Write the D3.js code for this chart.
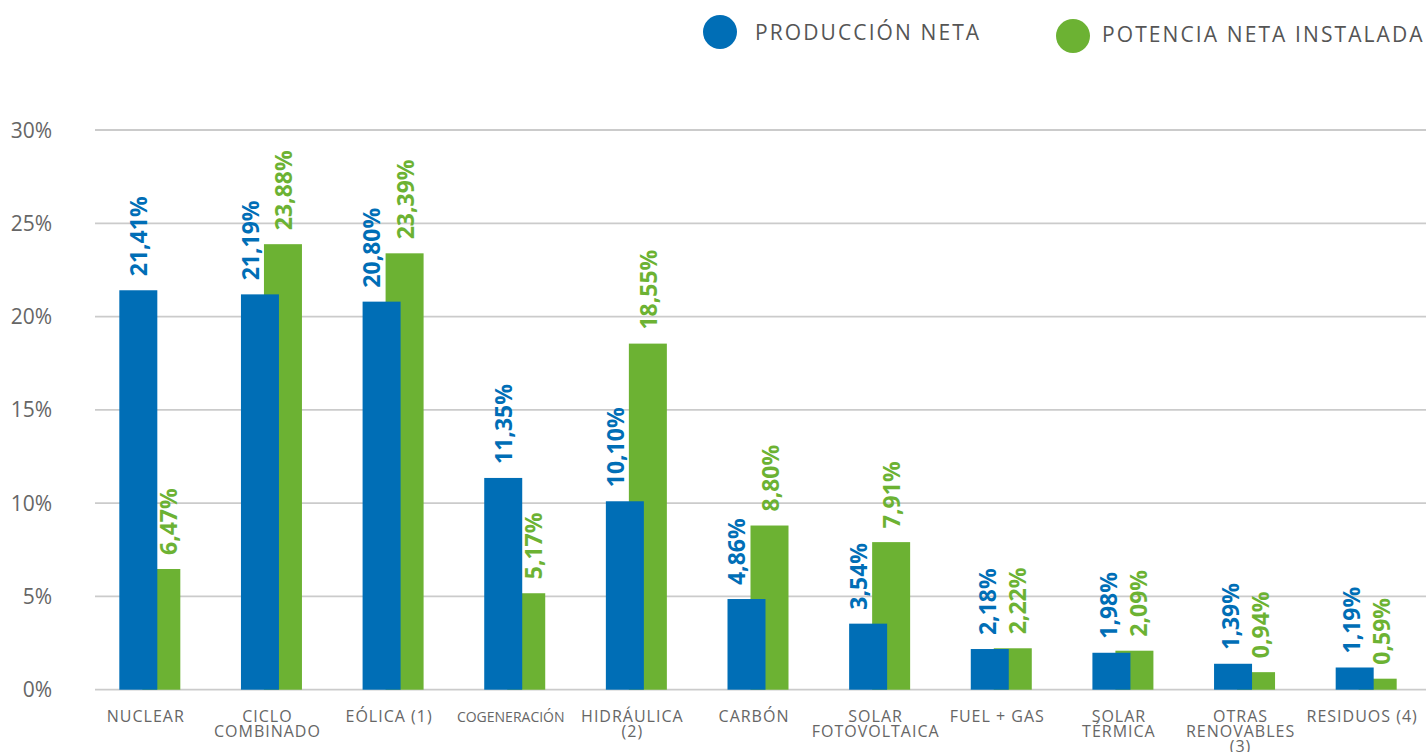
<!DOCTYPE html>
<html>
<head>
<meta charset="utf-8">
<script src="https://cdn.jsdelivr.net/npm/d3@7"></script>
<style>
  body { margin: 0; background: #fff; }
  svg { display: block; font-family: "Open Sans", sans-serif; }
</style>
</head>
<body>
<svg width="1426" height="752"></svg>
<script>
  // categories (one entry per line of the axis label)
  const categories = [
    ["NUCLEAR"], ["CICLO", "COMBINADO"], ["EÓLICA (1)"], ["COGENERACIÓN"],
    ["HIDRÁULICA", "(2)"], ["CARBÓN"], ["SOLAR", "FOTOVOLTAICA"], ["FUEL + GAS"],
    ["SOLAR", "TÉRMICA"], ["OTRAS", "RENOVABLES", "(3)"], ["RESIDUOS (4)"]
  ];
  const produccion = [21.41, 21.19, 20.80, 11.35, 10.10, 4.86, 3.54, 2.18, 1.98, 1.39, 1.19];
  const potencia = [6.47, 23.88, 23.39, 5.17, 18.55, 8.80, 7.91, 2.22, 2.09, 0.94, 0.59];
  const yTicks = [0, 5, 10, 15, 20, 25, 30];
  const seriesNames = ["PRODUCCIÓN NETA", "POTENCIA NETA INSTALADA"];

  const BLUE = "#006eb6", GREEN = "#6cb233", GREY = "#666";

  const svg = d3.select("svg");
  const keys = categories.map(c => c.join(" "));

  const x = d3.scaleBand().domain(keys).range([89, 1427]);
  const sub = d3.scalePoint().domain(["prod", "pot"]).range([-11.5, 11.5]);
  const barW = 38;
  const y = d3.scaleLinear().domain([0, 30]).range([689.7, 130]);

  const fmt = v => d3.format(".2f")(v).replace(".", ",") + "%";

  // gridlines + y labels
  const grid = svg.append("g");
  grid.selectAll("line").data(yTicks).enter().append("line")
    .attr("x1", 95).attr("x2", 1426)
    .attr("y1", d => y(d)).attr("y2", d => y(d))
    .attr("stroke", "#cbcbcb").attr("stroke-width", 1.8);
  grid.selectAll("text").data(yTicks).enter().append("text")
    .attr("x", 52).attr("y", d => y(d)).attr("dy", "0.36em")
    .attr("text-anchor", "end")
    .style("font-size", "21px").style("fill", GREY)
    .text(d => d + "%");

  const rows = keys.map((k, i) => ({ key: k, lines: categories[i], prod: produccion[i], pot: potencia[i] }));
  const cx = d => x(d.key) + x.bandwidth() / 2;

  // bars: green behind, blue in front
  svg.append("g").selectAll("rect").data(rows).enter().append("rect")
    .attr("x", d => cx(d) + sub("pot") - barW / 2)
    .attr("y", d => y(d.pot)).attr("width", barW)
    .attr("height", d => y(0) - y(d.pot))
    .attr("fill", GREEN);
  svg.append("g").selectAll("rect").data(rows).enter().append("rect")
    .attr("x", d => cx(d) + sub("prod") - barW / 2)
    .attr("y", d => y(d.prod)).attr("width", barW)
    .attr("height", d => y(0) - y(d.prod))
    .attr("fill", BLUE);

  // value labels, rotated
  const gap = 14;
  const labels = svg.append("g");
  rows.forEach(d => {
    const tb = labels.append("text").text(fmt(d.prod))
      .style("font-size", "23px").style("font-weight", "bold").style("fill", BLUE);
    const tg = labels.append("text").text(fmt(d.pot))
      .style("font-size", "23px").style("font-weight", "bold").style("fill", GREEN);
    const lb = tb.node().getComputedTextLength();
    const lg = tg.node().getComputedTextLength();
    const yb = y(d.prod) - gap, yg = y(d.pot) - gap;
    let ob = sub("prod"), og = 19;
    if (yb > y(d.pot)) {
      // blue label would sit over the green bar: push apart
      ob = -21; og = 12.5;
    } else if (!(yb - lb > yg || yg - lg > yb)) {
      // labels at the same height
      ob = -14; og = 16;
    }
    tb.attr("transform", `translate(${cx(d) + ob},${yb}) rotate(-90)`).attr("dy", "0.36em");
    tg.attr("transform", `translate(${cx(d) + og},${yg}) rotate(-90)`).attr("dy", "0.36em");
  });

  // category labels
  const cat = svg.append("g").selectAll("text").data(rows).enter().append("text")
    .attr("x", d => cx(d) - 4).attr("y", 722)
    .attr("text-anchor", "middle")
    .style("font-size", d => d.key === "COGENERACIÓN" ? "14px" : "16px")
    .style("letter-spacing", d => d.key === "COGENERACIÓN" ? "0px" : "1px")
    .style("fill", GREY);
  cat.selectAll("tspan").data(d => d.lines.map(l => ({ l, x: cx(d) - 4 }))).enter().append("tspan")
    .attr("x", d => d.x).attr("dy", (d, i) => i ? 15 : 0)
    .text(d => d.l);

  // legend
  const legend = svg.append("g");
  const legendPos = [{ cx: 720, cy: 32, tx: 755, ty: 40 }, { cx: 1073, cy: 36, tx: 1102, ty: 42 }];
  seriesNames.forEach((n, i) => {
    legend.append("circle").attr("cx", legendPos[i].cx).attr("cy", legendPos[i].cy).attr("r", 17)
      .attr("fill", i ? GREEN : BLUE);
    legend.append("text").attr("x", legendPos[i].tx).attr("y", legendPos[i].ty)
      .style("font-size", "21px").style("letter-spacing", "2.1px").style("fill", "#555")
      .text(n);
  });
</script>
</body>
</html>
